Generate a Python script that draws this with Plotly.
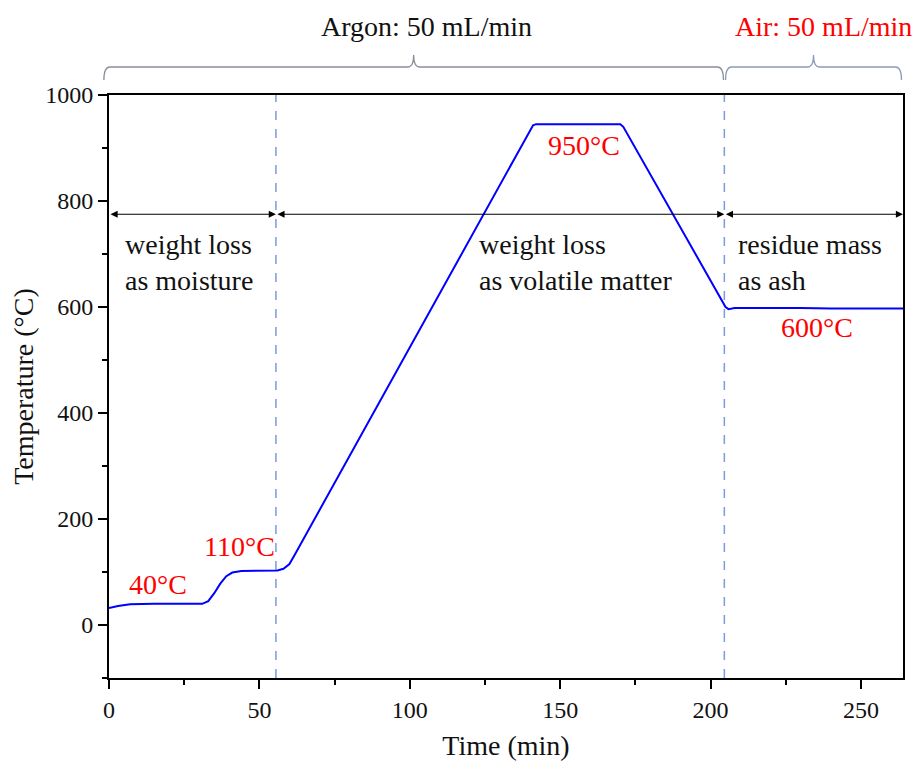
import plotly.graph_objects as go

# ---- data ----
time_min = [0, 3, 7, 15, 31, 33, 35, 37, 39, 41, 44, 50, 56, 58, 60, 62,
            141, 142, 170, 171, 205, 206, 208, 230, 240, 264]
temp_c = [32, 36, 39, 40, 40, 45, 60, 78, 92, 99, 102, 103, 103, 106, 115, 135,
          943, 945, 945, 940, 600, 596, 598, 598, 597, 597]

stage_bounds = [0, 55.5, 204.6, 264]          # minutes
stage_texts = ["weight loss<br>as moisture",
               "weight loss<br>as volatile matter",
               "residue mass<br>as ash"]
stage_text_x = [4.6, 122.5, 208.5]
temp_labels = ["40°C", "110°C", "950°C", "600°C"]
temp_label_pos = [(16.3, 76), (43.5, 148), (157.8, 905), (235.5, 562)]
arrow_level = 775
gas_texts = ["Argon: 50 mL/min", "Air: 50 mL/min"]
gas_bounds = [(-1.7, 204.3), (205.0, 263.5)]

XR = [0, 264]
YR = [-100, 1000]
FONT = "Liberation Serif, Times New Roman, serif"
TXT = 28

fig = go.Figure()
fig.add_trace(go.Scatter(x=time_min, y=temp_c, mode="lines",
                         line=dict(color="#0000ff", width=2), hoverinfo="skip",
                         showlegend=False))

# dashed stage separators
for t in stage_bounds[1:3]:
    fig.add_shape(type="line", xref="x", yref="paper", x0=t, x1=t, y0=0, y1=1,
                  line=dict(color="#7a9be0", width=1.5, dash="dash"), layer="below")

# double-headed arrows
for a, b in zip(stage_bounds[:-1], stage_bounds[1:]):
    fig.add_annotation(x=b, y=arrow_level, ax=a, ay=arrow_level, xref="x", yref="y",
                       axref="x", ayref="y", text="", showarrow=True,
                       arrowhead=2, arrowside="end+start", arrowsize=1.3,
                       arrowwidth=1.1, arrowcolor="black", standoff=0, startstandoff=0)

# stage texts
for txt, tx in zip(stage_texts, stage_text_x):
    fig.add_annotation(x=tx, y=684, xref="x", yref="y", text=txt,
                       showarrow=False, xanchor="left", yanchor="middle", align="left",
                       font=dict(family=FONT, size=TXT, color="#111"))

# red temperature labels
for txt, (tx, ty) in zip(temp_labels, temp_label_pos):
    fig.add_annotation(x=tx, y=ty, xref="x", yref="y", text=txt, showarrow=False,
                       xanchor="center", yanchor="middle",
                       font=dict(family=FONT, size=TXT, color="#ff0000"))

# braces over the top (paper coords)
def px(t):
    return (t - XR[0]) / (XR[1] - XR[0])

plot_h = 583.0
def py(pix_above_top):
    return 1 + pix_above_top / plot_h

brace_colors = ["#8a8f98", "#8a9ab8"]
for (a, b), col in zip(gas_bounds, brace_colors):
    m = (a + b) / 2
    xa, xb, xm = px(a), px(b), px(m)
    d = 2.0 / 264
    yl, yh, yt = py(15), py(28), py(40)
    path = (f"M {xa},{yl} Q {xa},{yh} {xa+d},{yh} L {xm-d},{yh} "
            f"Q {xm},{yh} {xm},{yt} Q {xm},{yh} {xm+d},{yh} L {xb-d},{yh} "
            f"Q {xb},{yh} {xb},{yl}")
    fig.add_shape(type="path", xref="paper", yref="paper", path=path,
                  line=dict(color=col, width=1.3))

fig.add_annotation(x=px(105.5), y=py(68), xref="paper", yref="paper",
                   text=gas_texts[0], showarrow=False, xanchor="center", yanchor="middle",
                   font=dict(family=FONT, size=TXT, color="#111"))
fig.add_annotation(x=px(237.5), y=py(68), xref="paper", yref="paper",
                   text=gas_texts[1], showarrow=False, xanchor="center", yanchor="middle",
                   font=dict(family=FONT, size=TXT, color="#ff0000"))

axis_common = dict(showline=True, linecolor="black", linewidth=2, mirror=True,
                   ticks="outside", ticklen=9, tickwidth=1.5, tickcolor="black",
                   showgrid=False, zeroline=False, automargin=False,
                   tickfont=dict(family=FONT, size=24, color="#111"))

fig.update_xaxes(range=XR, tick0=0, dtick=50,
                 minor=dict(dtick=25, ticklen=5, tickwidth=1.5, tickcolor="black",
                            ticks="outside"),
                 title=dict(text="Time (min)", font=dict(family=FONT, size=TXT, color="#111"),
                            standoff=14),
                 **axis_common)
fig.update_yaxes(range=YR, tick0=0, dtick=200,
                 minor=dict(dtick=100, ticklen=5, tickwidth=1.5, tickcolor="black",
                            ticks="outside"),
                 title=dict(text="Temperature (°C)",
                            font=dict(family=FONT, size=TXT, color="#111"), standoff=5),
                 **axis_common)

fig.update_layout(width=912, height=764, plot_bgcolor="white", paper_bgcolor="white",
                  margin=dict(l=101, r=17, t=87, b=94), showlegend=False)

fig.write_html("out.html")
